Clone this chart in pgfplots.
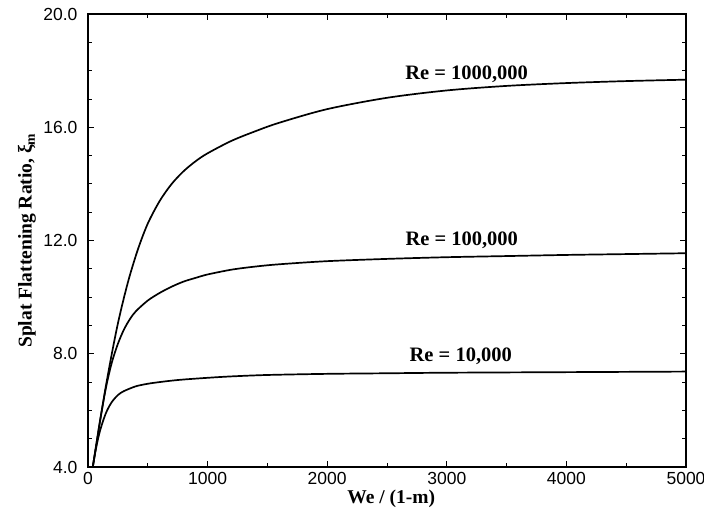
\documentclass[border=0pt]{standalone}
\usepackage{fontspec}
\setmainfont{Liberation Serif}
\setsansfont{Liberation Sans}
\usepackage{pgfplots}
\pgfplotsset{compat=1.18}
\usetikzlibrary{calc}

\begin{document}
\begin{tikzpicture}
\begin{axis}[
  scale only axis, width=598pt, height=453pt,
  xmin=0, xmax=5000, ymin=4, ymax=20,
  xtick={0,1000,2000,3000,4000,5000},
  ytick={4,8,12,16,20},
  minor x tick num=1, minor y tick num=3,
  tick align=inside,
  major tick length=6pt, minor tick length=4pt,
  axis line style={line width=1.1pt},
  every tick/.style={black, line width=0.8pt},
  scaled ticks=false,
  /pgf/number format/assume math mode=true,
  xticklabel style={/pgf/number format/set thousands separator={}, font=\sffamily\fontsize{17.5}{19}\selectfont, yshift=-2pt},
  yticklabel style={/pgf/number format/fixed, /pgf/number format/fixed zerofill, /pgf/number format/precision=1, font=\sffamily\fontsize{17.5}{19}\selectfont, xshift=-7pt},
  xlabel={We / (1-m)},
  ylabel={Splat Flattening Ratio, ξ\textsubscript{m}},
  xlabel style={font=\bfseries\fontsize{19.5}{22}\selectfont, at={(axis description cs:0.507,-0.0795)}, anchor=base},
  ylabel style={font=\bfseries\fontsize{19.5}{22}\selectfont, at={(axis description cs:-0.102,0.5)}, anchor=center},
]
% Re = 10,000
\addplot[black, line width=1.7pt, smooth] coordinates {
(40,4.0) (60,4.5) (80,4.92) (100,5.27) (130,5.68) (160,6.0) (200,6.3) (250,6.54) (300,6.68) (400,6.85) (500,6.94) (600,7.0) (700,7.05) (800,7.09) (1000,7.15) (1200,7.2) (1500,7.25) (2000,7.29) (2500,7.31) (3000,7.33) (4000,7.35) (5000,7.37)
};
% Re = 100,000
\addplot[black, line width=1.7pt, smooth] coordinates {
(40,4.0) (70,4.8) (100,5.6) (150,6.8) (200,7.7) (250,8.35) (300,8.85) (350,9.22) (400,9.5) (500,9.88) (600,10.15) (700,10.37) (800,10.55) (900,10.68) (1000,10.8) (1200,10.97) (1400,11.08) (1600,11.16) (2000,11.27) (2500,11.35) (3000,11.41) (3500,11.45) (4000,11.49) (4500,11.52) (5000,11.55)
};
% Re = 1000,000
\addplot[black, line width=1.7pt, smooth] coordinates {
(40,4.0) (70,4.81) (100,5.62) (150,6.87) (200,8.02) (250,9.07) (300,9.97) (350,10.77) (420,11.72) (500,12.6) (600,13.4) (700,14.0) (800,14.45) (900,14.8) (1000,15.08) (1200,15.52) (1400,15.86) (1600,16.16) (2000,16.64) (2500,17.04) (3000,17.3) (3500,17.46) (4000,17.56) (4500,17.63) (5000,17.68)
};
\node[anchor=base, font=\bfseries\fontsize{20.5}{23}\selectfont] at (axis cs:3166,17.69) {Re = 1000,000};
\node[anchor=base, font=\bfseries\fontsize{20.5}{23}\selectfont] at (axis cs:3125,11.84) {Re = 100,000};
\node[anchor=base, font=\bfseries\fontsize{20.5}{23}\selectfont] at (axis cs:3117,7.72) {Re = 10,000};
\end{axis}
\pgfresetboundingbox
\path ($(current axis.south west)+(-88pt,-48pt)$) rectangle ($(current axis.north east)+(18pt,14pt)$);
\end{tikzpicture}
\end{document}
